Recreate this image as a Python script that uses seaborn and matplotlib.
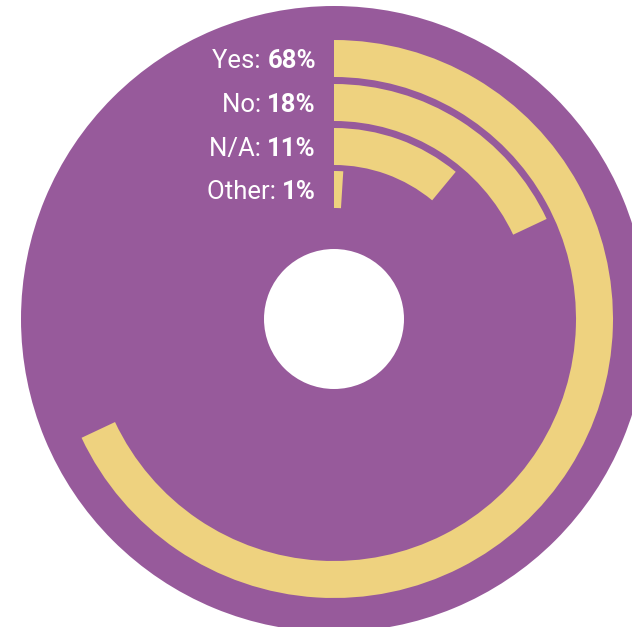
import numpy as np
import matplotlib
matplotlib.use("Agg")
import matplotlib.pyplot as plt
import seaborn as sns

# Survey answers, share of respondents in percent
categories = ["Yes", "No", "N/A", "Other"]
shares = [68, 18, 11, 1]
value_labels = ["68%", "18%", "11%", "1%"]

sns.set_theme(style="white")
plt.rcParams["font.family"] = ["Roboto", "DejaVu Sans"]

purple = "#975a9b"
gold = "#eed27f"

W, H = 632, 627
fig = plt.figure(figsize=(W / 100, H / 100), dpi=100)
fig.patch.set_facecolor("white")

# Disc geometry (pixels)
cx, cy = 334, 308
R = 313
hole = 70
ring_outer = np.array([279, 235, 191, 148])
ring_w = 37

ax = fig.add_axes([(cx - R) / W, (cy - R) / H, 2 * R / W, 2 * R / H],
                  projection="polar")
ax.set_theta_zero_location("N")
ax.set_theta_direction(-1)
ax.set_facecolor(purple)

theta = np.array(shares) / 100 * 2 * np.pi
ax.bar(0, ring_w, width=theta, bottom=ring_outer - ring_w, align="edge",
       color=gold, linewidth=0)
# Central hole
ax.bar(0, hole, width=2 * np.pi, bottom=0, align="edge", color="white",
       linewidth=0)

ax.set_ylim(0, R)
ax.grid(False)
ax.set_xticks([])
ax.set_yticks([])
ax.spines["polar"].set_visible(False)

for cat, lab, r_out in zip(categories, value_labels, ring_outer):
    r_c = r_out - ring_w / 2
    b = ax.annotate(lab, xy=(0, r_c), xytext=(-18, -9.5),
                    textcoords="offset pixels", ha="right", va="baseline",
                    fontsize=18.5, fontweight="bold", color="white")
    ax.annotate(f"{cat}: ", xy=(0, 0), xycoords=b, ha="right", va="bottom",
                fontsize=18.5, color="white")

fig.savefig("out.png", dpi=100)
